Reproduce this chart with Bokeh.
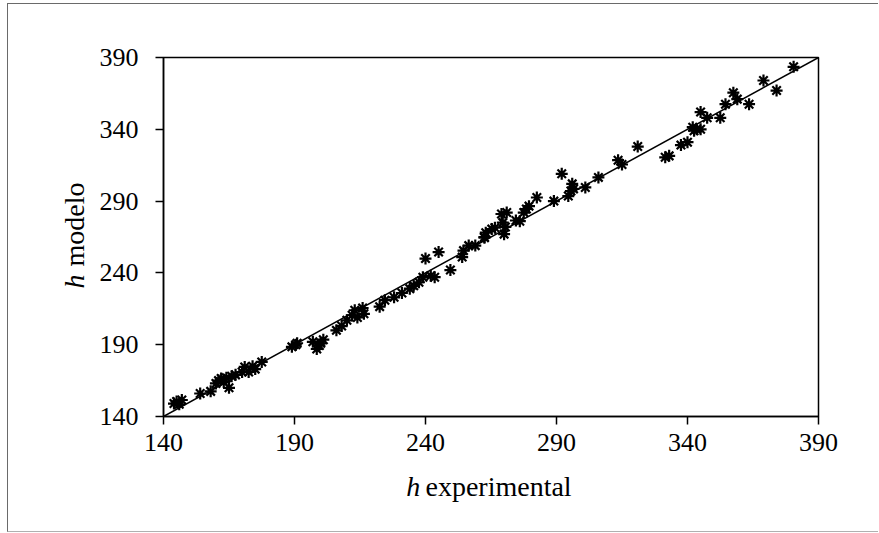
from bokeh.plotting import figure
from bokeh.models import Range1d, FixedTicker
from bokeh.core.properties import value
from bokeh.embed import file_html
from bokeh.resources import INLINE
import math

# h experimental vs h modelo
h_exp = [144, 145, 146, 147, 154, 158, 160, 161, 162, 163, 164, 165, 166,
         167.5, 170, 171, 172.5, 174, 175, 177.5, 189, 190.5, 191,
         197, 198.5, 199.5, 200, 201, 206, 208, 210, 212, 213, 214, 216, 216.5,
         222.5, 224.5, 228, 231, 234, 235.5, 237.5, 239, 242, 243.5, 240, 245,
         249.5, 254, 254.5, 256.5, 259, 262.5, 265.3,
         262.5, 263, 266.5, 269, 271, 269.5, 270, 270.5, 274.5, 276, 277.5,
         279.5, 278.5, 282.5, 289, 292, 294.5, 296, 295.5, 296.5, 301, 306,
         313.5, 315, 321, 331.5, 333, 337.5, 340, 342, 343.5, 345, 342.5, 345,
         347.5, 352.5, 354.5, 357.5, 359, 363.5, 369, 374, 380.5]
h_mod = [149, 150.5, 148.5, 151.5, 156, 157.5, 163, 165, 166.5, 164, 167, 160, 168,
         169, 171, 174.5, 171, 175, 173, 178, 188.5, 190, 191,
         192, 187, 189.5, 191, 193.5, 200, 203, 207, 210.5, 214, 209, 215.5, 211.5,
         216.5, 221, 223, 226, 229, 231, 233.5, 237, 238, 237, 250, 254.5,
         242, 251, 255.5, 259, 259, 265, 270.5,
         264.5, 268, 271.5, 281, 282, 275, 267, 272, 276.5, 276, 282,
         286.5, 284.5, 292.5, 290, 309, 293.5, 302, 297, 298.5, 299.5, 306.5,
         318.5, 315.5, 328, 320.5, 321.5, 329, 331, 341.5, 340, 340, 339, 352,
         348, 348, 357.5, 365.5, 361, 357.5, 374, 367, 383.5]

line_x = [140, 390]
line_y = [140, 390]
ticks = [140, 190, 240, 290, 340, 390]

FONT = "Liberation Serif"

p = figure(frame_width=655, frame_height=359,
           min_border_left=155, min_border_right=60,
           min_border_top=53, min_border_bottom=115,
           x_range=Range1d(140, 390), y_range=Range1d(140, 390),
           output_backend="svg", toolbar_location=None,
           background_fill_color="white", border_fill_color="white",
           styles={"margin-left": "7px", "margin-top": "3px",
                   "border-left": "1px solid #6a6a6a",
                   "border-top": "1px solid #6a6a6a",
                   "border-bottom": "1px solid #b0b0b0"})

p.grid.visible = False
p.outline_line_color = "black"
p.outline_line_width = 1.5
p.outline_line_alpha = 1

for ax in (p.xaxis[0], p.yaxis[0]):
    ax.ticker = FixedTicker(ticks=ticks)
    ax.axis_line_color = "black"
    ax.axis_line_width = 1.5
    ax.major_tick_line_color = "black"
    ax.major_tick_line_width = 1.5
    ax.major_tick_out = 8
    ax.major_tick_in = 0
    ax.minor_tick_line_color = None
    ax.major_label_text_font = FONT
    ax.major_label_text_font_size = "26px"
    ax.major_label_text_color = "black"

p.xaxis[0].major_label_standoff = 9
p.yaxis[0].major_label_standoff = 17

p.line(line_x, line_y, line_color="black", line_width=1.5)
p.scatter(h_exp, h_mod, marker="asterisk", size=12, line_color="black",
          line_width=2.2)

# axis titles (mixed italic / roman), drawn unclipped at annotation level
tkw = dict(text_font=value(FONT), text_font_size=value("28px"),
           text_color="black", text_baseline="alphabetic", level="annotation")
p.text(x=[238.0], y=[91.3], text=["h"], text_align="right",
       text_font_style="italic", **tkw)
p.text(x=[240.0], y=[91.3], text=["experimental"], text_align="left", **tkw)
p.text(x=[105.9], y=[229.1], text=["h"], text_align="left", angle=math.pi / 2,
       text_font_style="italic", **tkw)
p.text(x=[105.9], y=[244.5], text=["modelo"], text_align="left",
       angle=math.pi / 2, **tkw)

open("out.html", "w").write(file_html(p, INLINE))
